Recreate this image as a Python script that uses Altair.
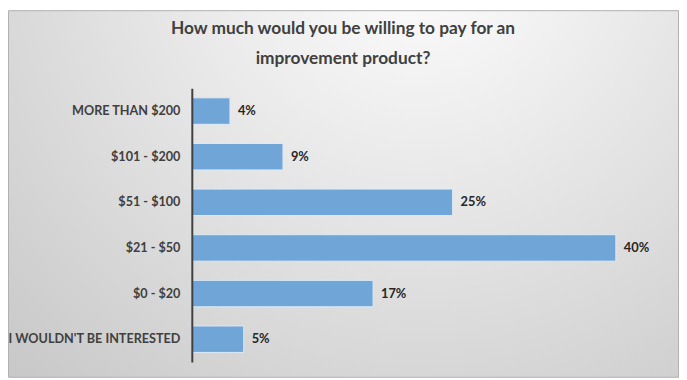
import altair as alt
import pandas as pd

categories = ["MORE THAN $200", "$101 - $200", "$51 - $100", "$21 - $50", "$0 - $20", "I WOULDN'T BE INTERESTED"]
values = [3.6, 8.6, 24.6, 40.0, 17.1, 4.9]
labels = [f"{round(v)}%" for v in values]

df = pd.DataFrame({"category": categories, "value": values, "label": labels})

W, H = 472, 277
PL, PT, PR, PB = 186, 79, 21, 16
FONT = "Lato"

bg = alt.Chart(alt.Data(values=[{}])).mark_rect(
    fill=alt.Gradient(
        gradient="radial",
        x1=0.61, y1=0.12, r1=0,
        x2=0.61, y2=0.12, r2=0.95,
        stops=[alt.GradientStop(color="#ffffff", offset=0),
               alt.GradientStop(color="#c4c4c4", offset=1)],
    ),
    stroke="#b0b0b0", strokeWidth=1,
).encode(
    x=alt.value(-PL + 0.5), x2=alt.value(W + PR - 0.5),
    y=alt.value(-PT + 0.5), y2=alt.value(H + PB - 0.5),
)

base = alt.Chart(df).encode(
    y=alt.Y("category:N", sort=categories, title=None,
            scale=alt.Scale(paddingInner=0.42, paddingOuter=0.21),
            axis=alt.Axis(domainColor="#404040", domainWidth=2, ticks=False,
                          labelFont=FONT, labelFontWeight="bold", labelFontSize=12.8,
                          labelColor="#404040", labelPadding=12, grid=False, zindex=2)),
    x=alt.X("value:Q", title=None, scale=alt.Scale(domain=[0, 44], nice=False), axis=None),
)

bars = base.mark_bar(color="#6fa5d7", stroke="#ddebf7", strokeWidth=1)
text = base.mark_text(align="left", baseline="middle", dx=8, font=FONT,
                      fontWeight="bold", fontSize=13, color="#262626").encode(text="label:N")

chart = alt.layer(bg, bars, text).properties(
    width=W, height=H,
    autosize=alt.AutoSizeParams(type="none"),
    padding={"left": PL, "top": PT, "right": PR, "bottom": PB},
    title=alt.TitleParams(
        text=["How much would you be willing to pay for an", "improvement product?"],
        font=FONT, fontSize=17.5, fontWeight="bold", color="#404040",
        anchor="middle", dx=-83, offset=-58, lineHeight=30, zindex=2,
    ),
).configure_view(stroke=None)

chart.save("out.html", embed_options={"renderer": "svg", "actions": False})
